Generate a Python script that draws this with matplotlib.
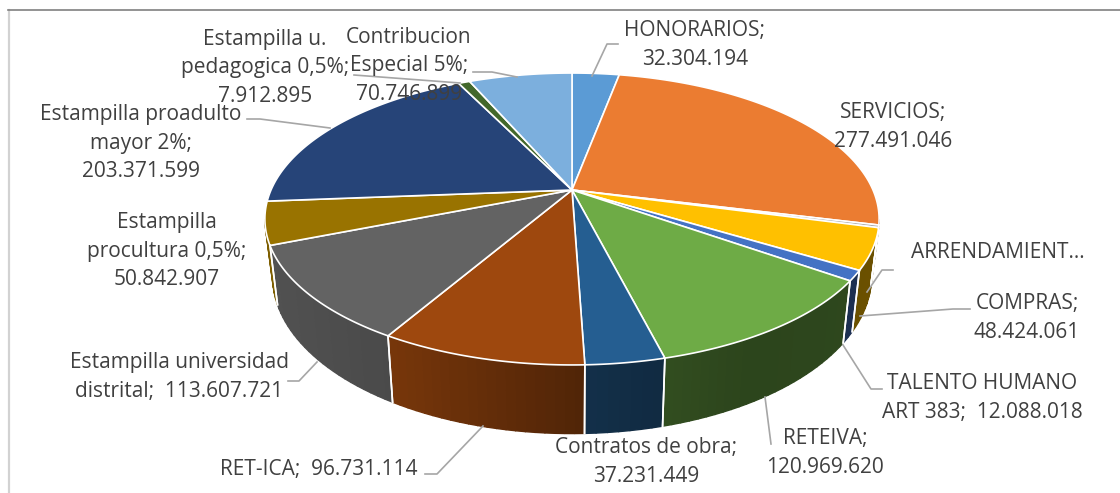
#!/usr/bin/env python
from __future__ import annotations

import matplotlib

matplotlib.use("Agg")
import matplotlib.pyplot as plt
import numpy as np
from matplotlib.patches import Polygon

plt.rcParams["font.family"] = ["Open Sans", "DejaVu Sans"]

categories = [
    "HONORARIOS", "SERVICIOS", "ARRENDAMIENTO", "COMPRAS", "TALENTO HUMANO ART 383",
    "RETEIVA", "Contratos de obra", "RET-ICA", "Estampilla universidad distrital",
    "Estampilla procultura 0,5%", "Estampilla proadulto mayor 2%",
    "Estampilla u. pedagogica 0,5%", "Contribucion Especial 5%",
]
values = [
    32304194, 277491046, 3000000, 48424061, 12088018, 120969620, 37231449,
    96731114, 113607721, 50842907, 203371599, 7912895, 70746899,
]
colors = [
    "#5B9BD5", "#EB7C31", "#A5A5A5", "#FFC000", "#4472C4", "#6EAB46", "#255E91",
    "#9E480E", "#636363", "#997300", "#264478", "#43682B", "#7CAFDD",
]
label_texts = [
    "HONORARIOS;\n32.304.194", "SERVICIOS;\n277.491.046", "ARRENDAMIENT…",
    "COMPRAS;\n48.424.061", "TALENTO HUMANO\nART 383;  12.088.018", "RETEIVA;\n120.969.620",
    "Contratos de obra;\n37.231.449", "RET-ICA;  96.731.114",
    "Estampilla universidad\ndistrital;  113.607.721", "Estampilla\nprocultura 0,5%;\n50.842.907",
    "Estampilla proadulto\nmayor 2%;\n203.371.599", "Estampilla u.\npedagogica 0,5%;\n7.912.895",
    "Contribucion\nEspecial 5%;\n70.746.899",
]
label_pos = [
    (695, 45), (893, 127), (998, 253), (1027, 318), (982, 398), (825, 453),
    (646, 462), (319, 469), (179, 377), (167, 251), (141, 143), (265, 68), (409, 66),
]
leaders = [
    [(592, 76), (607, 44), (618, 44)],
    None,
    [(893, 270), (882, 270), (867, 292)],
    [(970, 309), (953, 309), (860, 316)],
    [(882, 389), (871, 389), (843, 345)],
    [(771, 444), (765, 397)],
    None,
    [(425, 474), (437, 474), (483, 426)],
    [(288, 381), (299, 381), (317, 362)],
    None,
    [(247, 119), (260, 119), (330, 128)],
    [(354, 75), (460, 83)],
    [(473, 72), (492, 72), (517, 77)],
]

CX, CY = 572, 190
P, KY, KX = 0.1986, 140.2, 301.0
DEPTH = 55.0
SHRINK = 0.975


def project(theta, r=1.0, lower=False):
    u, v = r * np.sin(theta), r * np.cos(theta)
    w = 1 + P * v
    x, y = CX + KX * u / w, CY - KY * v / w
    if lower:
        x = CX + (x - CX) * SHRINK
        y = y + DEPTH / w
    return x, y


def wall_shade(x):
    return np.interp(x, [265, 400, 572, 620, 750, 880], [0.82, 0.74, 0.52, 0.48, 0.40, 0.42])


fig = plt.figure(figsize=(11.2, 4.93), dpi=100)
ax = fig.add_axes([0, 0, 1, 1])
ax.set_xlim(0, 1120)
ax.set_ylim(493, 0)
ax.axis("off")
ax.plot([9, 9], [10, 493], color="#d2d2d2", lw=1.6, zorder=1)
ax.plot([8, 1120], [9.5, 9.5], color="#808080", lw=1.2, zorder=1)

angles = np.concatenate([[0], np.cumsum(values)]) / np.sum(values) * 2 * np.pi
wall_lo, wall_hi = np.radians(101.5), np.radians(258.5)

for i, color in enumerate(colors):
    t0, t1 = max(angles[i], wall_lo), min(angles[i + 1], wall_hi)
    if t1 <= t0:
        continue
    grid = np.linspace(t0, t1, max(3, int((t1 - t0) * 40)))
    rgb = np.array(matplotlib.colors.to_rgb(color))
    for a, b in zip(grid[:-1], grid[1:]):
        xa, ya = project(a)
        xb, yb = project(b)
        xc, yc = project(b, lower=True)
        xd, yd = project(a, lower=True)
        shade = rgb * wall_shade((xa + xb) / 2)
        ax.add_patch(Polygon([(xa, ya), (xb, yb), (xc, yc), (xd, yd)], fc=shade, ec=shade, lw=1.0, zorder=2))
    for t in (t0, t1):
        if wall_lo < t < wall_hi:
            xa, ya = project(t)
            xd, yd = project(t, lower=True)
            ax.plot([xa, xd], [ya, yd], color="white", lw=1.2, zorder=3)

for i, color in enumerate(colors):
    grid = np.linspace(angles[i], angles[i + 1], 80)
    xs, ys = project(grid)
    pts = [(CX, CY)] + list(zip(xs, ys))
    ax.add_patch(Polygon(pts, fc=color, ec="white", lw=1.2, joinstyle="round", zorder=4))

for path in leaders:
    if path:
        ax.plot(*zip(*path), color="#a6a6a6", lw=1.2, zorder=5)

for text, (x, y) in zip(label_texts, label_pos):
    ax.text(x, y, text, ha="center", va="center", fontsize=15.0, color="#404040", linespacing=1.48, zorder=6)

fig.savefig("out.png", dpi=100)
plt.close(fig)
